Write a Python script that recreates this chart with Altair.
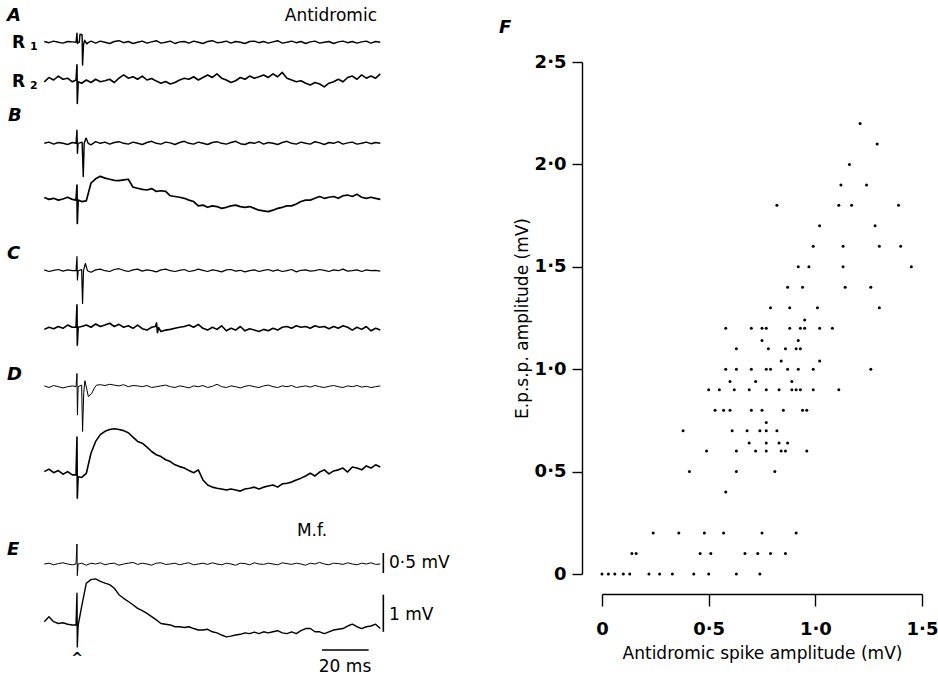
import altair as alt
import pandas as pd

# ---------------- Traces (mV relative to baseline), sampled every 2 ms from -14 ms ----------------
T_START, T_STEP = -14, 2

A_R1 = [0.02, -0.01, 0.03, 0.00, -0.02, 0.02, 0.01, 0.00, 0.00, -0.05,
        0.03, -0.02, 0.03, 0.00, -0.03, 0.02, 0.04, -0.01, 0.02, -0.03,
        0.00, 0.03, -0.02, 0.01, 0.04, -0.02, 0.00, 0.03, -0.03, 0.01,
        0.02, -0.02, 0.03, 0.00, -0.03, 0.02, 0.04, -0.01, 0.00, 0.03,
        -0.02, 0.02, 0.00, -0.03, 0.02, 0.03, -0.01, 0.02, -0.02, 0.01,
        0.04, -0.02, 0.00, 0.03, -0.01, 0.02, -0.03, 0.01, 0.03, -0.02,
        0.00, 0.02, -0.03, 0.01, 0.03, -0.01, 0.02, -0.02, 0.01, 0.03,
        -0.02, 0.02, 0.00]
A_R2 = [-0.05, 0.07, 0.00, 0.11, 0.02, 0.05, -0.05, 0.00, -0.09, 0.00,
        -0.07, 0.02, -0.05, -0.02, 0.02, -0.07, 0.05, 0.14, 0.05, 0.09,
        0.02, 0.11, 0.00, 0.04, -0.03, -0.09, -0.04, -0.11, -0.07, 0.00,
        0.05, 0.02, 0.09, 0.00, 0.07, 0.14, 0.07, 0.17, 0.05, 0.00,
        -0.07, -0.02, 0.07, 0.02, 0.11, 0.05, 0.09, 0.14, 0.07, 0.17,
        0.09, 0.21, 0.05, 0.00, -0.05, -0.02, -0.09, -0.14, -0.07, -0.11,
        -0.19, -0.09, -0.05, 0.02, -0.05, 0.07, 0.11, 0.02, 0.14, 0.05,
        0.11, 0.05, 0.17]
B_R1 = [0.00, 0.03, -0.02, 0.02, 0.00, -0.03, 0.02, 0.00, 0.00, 0.00,
        -0.04, 0.04, 0.00, 0.03, -0.02, 0.02, 0.04, 0.00, -0.02, 0.03,
        0.00, -0.03, 0.02, 0.05, 0.00, -0.02, 0.03, 0.01, -0.03, 0.02,
        0.05, 0.00, -0.02, 0.03, 0.00, -0.03, 0.02, 0.04, 0.00, -0.02,
        0.02, 0.05, -0.01, -0.03, 0.02, 0.00, 0.04, -0.02, 0.02, 0.00,
        -0.03, 0.02, 0.05, 0.00, -0.02, 0.03, 0.00, -0.02, 0.04, 0.01,
        -0.03, 0.02, 0.00, 0.04, -0.02, 0.01, 0.03, -0.02, 0.00, 0.03,
        -0.01, 0.02, 0.00]
B_R2 = [0.02, -0.03, 0.00, -0.05, -0.02, 0.03, -0.03, -0.05, -0.09, -0.07,
        0.42, 0.54, 0.61, 0.56, 0.53, 0.50, 0.49, 0.51, 0.53, 0.31,
        0.28, 0.25, 0.23, 0.27, 0.19, 0.21, 0.19, 0.07, 0.05, 0.03,
        0.00, -0.05, -0.09, -0.21, -0.19, -0.25, -0.21, -0.23, -0.28, -0.25,
        -0.21, -0.19, -0.23, -0.25, -0.23, -0.28, -0.33, -0.35, -0.37, -0.33,
        -0.28, -0.25, -0.21, -0.21, -0.16, -0.09, -0.05, -0.05, 0.00, 0.05,
        0.00, 0.03, 0.05, 0.00, 0.07, 0.09, 0.05, 0.11, 0.03, 0.00,
        0.03, 0.00, -0.03]
C_R1 = [0.02, -0.02, 0.01, 0.03, -0.01, 0.02, 0.00, 0.00, 0.00, 0.00,
        -0.04, 0.02, 0.04, 0.00, -0.02, 0.03, 0.05, 0.01, -0.02, 0.02,
        0.04, -0.01, 0.02, 0.00, -0.03, 0.02, 0.04, 0.00, -0.02, 0.01,
        0.03, -0.02, 0.00, 0.04, 0.01, -0.02, 0.02, 0.00, -0.03, 0.02,
        0.03, -0.01, 0.01, -0.03, 0.00, 0.02, -0.02, 0.01, 0.03, -0.01,
        0.02, -0.02, 0.00, 0.03, -0.03, 0.01, 0.02, -0.01, 0.00, 0.03,
        0.01, -0.02, 0.02, 0.00, 0.04, -0.01, 0.00, 0.02, -0.02, 0.02,
        0.00, 0.01, -0.01]
C_R2 = [-0.03, 0.03, -0.01, 0.05, 0.00, 0.09, 0.03, 0.00, 0.05, 0.09,
        0.03, 0.12, 0.05, 0.09, 0.14, 0.05, 0.11, 0.03, 0.07, 0.00,
        0.09, -0.01, -0.05, 0.03, 0.09, -0.09, -0.05, -0.03, 0.00, 0.03,
        0.05, 0.09, 0.03, 0.11, 0.00, -0.05, 0.03, -0.03, 0.07, -0.07,
        0.00, -0.05, 0.05, -0.07, -0.01, -0.05, -0.09, -0.03, -0.07, 0.00,
        -0.05, 0.03, 0.05, 0.00, 0.07, 0.03, 0.05, 0.00, 0.07, 0.03,
        0.05, -0.01, 0.05, 0.00, 0.07, 0.03, -0.05, 0.03, -0.03, 0.05,
        -0.07, 0.00, -0.05]
D_R1 = [0.02, -0.02, 0.03, 0.00, -0.03, 0.00, 0.02, 0.00, 0.00, 0.00,
        0.00, 0.00, 0.05, 0.03, 0.06, 0.04, 0.02, 0.05, 0.00, 0.03,
        0.02, 0.00, 0.03, -0.02, 0.00, 0.02, 0.04, 0.00, -0.02, 0.02,
        0.00, -0.03, 0.02, 0.00, 0.03, -0.02, 0.01, 0.06, 0.00, -0.02,
        0.02, 0.00, -0.03, 0.01, 0.03, 0.00, -0.02, 0.02, 0.04, 0.00,
        -0.02, 0.02, 0.00, 0.03, -0.02, 0.00, 0.02, -0.01, 0.03, 0.00,
        -0.02, 0.01, 0.03, 0.00, -0.02, 0.02, 0.00, 0.03, -0.01, 0.01,
        -0.02, 0.00, 0.02]
D_R2 = [0.14, 0.21, 0.11, 0.17, 0.07, 0.14, 0.05, 0.00, -0.02, 0.09,
        0.65, 0.98, 1.17, 1.26, 1.31, 1.33, 1.31, 1.28, 1.22, 1.10,
        0.98, 0.93, 0.82, 0.70, 0.61, 0.56, 0.47, 0.42, 0.33, 0.28,
        0.24, 0.17, 0.11, 0.19, -0.09, -0.23, -0.29, -0.32, -0.34, -0.37,
        -0.34, -0.37, -0.40, -0.34, -0.32, -0.29, -0.34, -0.29, -0.26, -0.23,
        -0.29, -0.20, -0.18, -0.15, -0.09, -0.04, 0.02, 0.10, 0.02, 0.13,
        0.19, 0.08, 0.16, 0.19, 0.24, 0.13, 0.27, 0.24, 0.19, 0.30,
        0.24, 0.33, 0.27]
E_R1 = [0.00, 0.02, -0.02, 0.01, 0.03, 0.00, -0.02, 0.00, 0.02, -0.03,
        0.02, 0.00, 0.03, -0.02, 0.01, 0.02, -0.03, 0.00, 0.02, 0.04,
        -0.01, 0.02, 0.00, -0.03, 0.02, 0.03, -0.01, 0.00, 0.02, -0.02,
        0.01, 0.03, -0.02, 0.00, 0.02, -0.01, 0.03, 0.00, -0.02, 0.02,
        0.00, -0.03, 0.02, 0.01, -0.02, 0.03, 0.00, -0.01, 0.02, 0.00,
        -0.02, 0.03, 0.01, -0.01, 0.02, 0.00, -0.03, 0.02, 0.00, 0.04,
        0.00, -0.02, 0.02, 0.01, -0.01, 0.03, 0.00, -0.02, 0.02, 0.00,
        0.03, -0.01, 0.00]
E_R2 = [0.00, 0.14, 0.00, -0.05, -0.03, -0.07, -0.09, 0.00, 0.42, 1.07,
        1.17, 1.19, 1.12, 1.07, 1.03, 0.93, 0.75, 0.65, 0.56, 0.47,
        0.37, 0.31, 0.23, 0.14, 0.05, -0.05, -0.07, -0.09, -0.14, -0.14,
        -0.16, -0.14, -0.19, -0.23, -0.23, -0.21, -0.28, -0.31, -0.37, -0.42,
        -0.40, -0.37, -0.35, -0.31, -0.33, -0.29, -0.33, -0.28, -0.31, -0.28,
        -0.25, -0.31, -0.33, -0.28, -0.33, -0.25, -0.19, -0.19, -0.28, -0.28,
        -0.33, -0.28, -0.23, -0.21, -0.19, -0.12, -0.07, -0.14, -0.19, -0.14,
        -0.12, -0.07, -0.19]

# Stimulus artefacts and antidromic spikes (time in ms, value in mV)
A_R1_EV_T = [-0.4, 0.0, 0.2, 0.6, 1.0, 1.3, 2.2, 2.4, 2.8, 3.3, 4.2, 5.0]
A_R1_EV_V = [0.0, 0.23, -0.03, 0.0, 0.0, 0.20, 0.19, -0.57, -0.06, 0.05, -0.04, 0.0]
A_R2_EV_T = [-0.4, 0.0, 0.15, 0.5]
A_R2_EV_V = [0.0, 0.42, -0.65, -0.05]
B_R1_EV_T = [-0.4, 0.0, 0.2, 0.5, 2.2, 2.7, 3.1, 3.9, 4.8]
B_R1_EV_V = [0.0, 0.33, -0.25, 0.0, 0.03, -0.83, 0.0, 0.13, 0.0]
B_R2_EV_T = [-0.4, 0.0, 0.15, 0.5]
B_R2_EV_V = [-0.05, 0.37, -0.70, -0.05]
C_R1_EV_T = [-0.4, 0.0, 0.2, 0.5, 2.0, 2.4, 2.8, 3.6, 4.5]
C_R1_EV_V = [0.0, 0.35, -0.23, 0.0, 0.03, -0.82, 0.0, 0.18, 0.0]
C_R2_EV_T = [-0.4, 0.0, 0.15, 0.5, 33.6, 34.1, 34.5, 35.0]
C_R2_EV_V = [0.03, 0.65, -0.47, 0.03, 0.05, 0.15, -0.12, 0.02]
D_R1_EV_T = [-0.4, 0.0, 0.2, 0.5, 2.0, 2.4, 2.9, 3.4, 4.2, 4.9, 6.3, 7.5, 8.4]
D_R1_EV_V = [0.0, 0.33, -0.71, 0.0, 0.04, -1.12, -0.15, 0.15, -0.06, -0.25, -0.17, -0.03, 0.04]
D_R2_EV_T = [-0.4, 0.0, 0.15, 0.5]
D_R2_EV_V = [0.05, 1.10, -0.60, 0.0]
E_R1_EV_T = [-0.4, 0.0, 0.15, 0.5]
E_R1_EV_V = [0.0, 0.50, -0.29, 0.0]
E_R2_EV_T = [-0.4, 0.0, 0.15, 0.5]
E_R2_EV_V = [-0.09, 0.79, -0.70, -0.10]

# ---------------- Scatter F ----------------
SPIKE = [1.21, 1.29, 1.16, 1.12, 1.24, 0.82, 1.11, 1.17, 1.39, 1.02, 1.28, 0.99, 1.13, 1.30, 1.40,
         0.92, 0.97, 1.13, 1.45, 0.87, 0.94, 1.14, 1.26,
         0.79, 0.88, 1.01, 1.30,
         0.95,
         0.58, 0.70, 0.75, 0.77, 0.88, 0.93, 0.95, 1.02, 1.08,
         0.75, 0.92,
         0.63, 0.78, 0.86, 0.91, 0.93,
         0.84, 1.02,
         0.58, 0.63, 0.70, 0.77, 0.79, 0.87, 0.92, 0.99, 1.26,
         0.60, 0.72, 0.89,
         0.50, 0.55, 0.62, 0.69, 0.77, 0.83, 0.89, 0.91, 0.93, 0.99, 1.11,
         0.53, 0.57, 0.60, 0.70, 0.75, 0.85, 0.94, 0.96,
         0.77,
         0.38, 0.61, 0.68, 0.74, 0.77, 0.82,
         0.69, 0.77, 0.83, 0.87,
         0.49, 0.63, 0.72, 0.77, 0.84, 0.86, 0.96,
         0.41, 0.63, 0.81,
         0.58,
         0.24, 0.36, 0.48, 0.57, 0.75, 0.91,
         0.14, 0.16, 0.46, 0.51, 0.67, 0.73, 0.79, 0.86,
         0.00, 0.03, 0.06, 0.10, 0.13, 0.22, 0.27, 0.33, 0.43, 0.50, 0.63, 0.74]
EPSP = [2.2, 2.1, 2.0, 1.9, 1.9, 1.8, 1.8, 1.8, 1.8, 1.7, 1.7, 1.6, 1.6, 1.6, 1.6,
        1.5, 1.5, 1.5, 1.5, 1.4, 1.4, 1.4, 1.4,
        1.3, 1.3, 1.3, 1.3,
        1.24,
        1.2, 1.2, 1.2, 1.2, 1.2, 1.2, 1.2, 1.2, 1.2,
        1.14, 1.14,
        1.1, 1.1, 1.1, 1.1, 1.1,
        1.04, 1.04,
        1.0, 1.0, 1.0, 1.0, 1.0, 1.0, 1.0, 1.0, 1.0,
        0.94, 0.94, 0.94,
        0.9, 0.9, 0.9, 0.9, 0.9, 0.9, 0.9, 0.9, 0.9, 0.9, 0.9,
        0.8, 0.8, 0.8, 0.8, 0.8, 0.8, 0.8, 0.8,
        0.74,
        0.7, 0.7, 0.7, 0.7, 0.7, 0.7,
        0.64, 0.64, 0.64, 0.64,
        0.6, 0.6, 0.6, 0.6, 0.6, 0.6, 0.6,
        0.5, 0.5, 0.5,
        0.4,
        0.2, 0.2, 0.2, 0.2, 0.2, 0.2,
        0.1, 0.1, 0.1, 0.1, 0.1, 0.1, 0.1, 0.1,
        0.0, 0.0, 0.0, 0.0, 0.0, 0.0, 0.0, 0.0, 0.0, 0.0, 0.0, 0.0]

# ---------------- Layout of the trace panel ----------------
R1_GAIN = 40.0   # display units per mV for R1 traces
R2_GAIN = 36.0   # display units per mV for R2 traces
TRACES = [
    ("A1", A_R1, A_R1_EV_T, A_R1_EV_V, 42.3, R1_GAIN, 1.4),
    ("A2", A_R2, A_R2_EV_T, A_R2_EV_V, 80.0, R2_GAIN, 1.6),
    ("B1", B_R1, B_R1_EV_T, B_R1_EV_V, 143.3, R1_GAIN, 1.4),
    ("B2", B_R2, B_R2_EV_T, B_R2_EV_V, 198.3, R2_GAIN, 1.7),
    ("C1", C_R1, C_R1_EV_T, C_R1_EV_V, 270.7, R1_GAIN, 1.2),
    ("C2", C_R2, C_R2_EV_T, C_R2_EV_V, 328.3, R2_GAIN, 1.6),
    ("D1", D_R1, D_R1_EV_T, D_R1_EV_V, 386.7, R1_GAIN, 1.0),
    ("D2", D_R2, D_R2_EV_T, D_R2_EV_V, 476.7, R2_GAIN, 1.6),
    ("E1", E_R1, E_R1_EV_T, E_R1_EV_V, 564.0, R1_GAIN, 1.0),
    ("E2", E_R2, E_R2_EV_T, E_R2_EV_V, 621.7, R2_GAIN, 1.4),
]

rows = []
for name, vals, ev_t, ev_v, base, gain, sw in TRACES:
    pts = []
    for i, v in enumerate(vals):
        t = T_START + T_STEP * i
        if any(abs(t - e) < 0.9 for e in ev_t):
            continue
        pts.append((t, v))
    pts += list(zip(ev_t, ev_v))
    pts.sort()
    for k, (t, v) in enumerate(pts):
        rows.append({"trace": name, "t": t, "y": base - v * gain, "sw": sw, "o": k})
df_tr = pd.DataFrame(rows)

xs_tr = alt.Scale(domain=[-14, 130], range=[44.3, 380.3], nice=False, zero=False)
ys_tr = alt.Scale(domain=[0, 675], range=[0, 675], nice=False, zero=False)

lines = alt.Chart(df_tr).mark_line(color="black", strokeJoin="round").encode(
    x=alt.X("t:Q", scale=xs_tr, axis=None),
    y=alt.Y("y:Q", scale=ys_tr, axis=None),
    detail="trace:N",
    order="o:Q",
    strokeWidth=alt.StrokeWidth("sw:Q", scale=None),
)

E1_BASE, E2_BASE = 564.0, 621.7
df_bars = pd.DataFrame([
    {"t": 105, "t2": 125, "y": 650, "y2": 650},
    {"t": 131.3, "t2": 131.3, "y": E1_BASE - 0.275 * R1_GAIN, "y2": E1_BASE + 0.225 * R1_GAIN},
    {"t": 131.3, "t2": 131.3, "y": E2_BASE - 0.75 * R2_GAIN, "y2": E2_BASE + 0.28 * R2_GAIN},
])
bars = alt.Chart(df_bars).mark_rule(color="black", strokeWidth=1.6).encode(
    x=alt.X("t:Q", scale=xs_tr, axis=None), x2="t2:Q",
    y=alt.Y("y:Q", scale=ys_tr, axis=None), y2="y2:Q",
)

FONT = "DejaVu Sans"


def txt(s, x, y, size=17, align="left", style="normal", weight="normal"):
    return alt.Chart(pd.DataFrame({"k": [0]})).mark_text(
        text=s, align=align, baseline="middle", fontSize=size, font=FONT,
        fontStyle=style, fontWeight=weight, color="black",
    ).encode(x=alt.value(x), y=alt.value(y))


texts = [
    txt("A", 7, 16, 18, style="italic", weight="bold"),
    txt("B", 8, 116, 18, style="italic", weight="bold"),
    txt("C", 7, 254, 18, style="italic", weight="bold"),
    txt("D", 7, 375, 18, style="italic", weight="bold"),
    txt("E", 7, 550, 18, style="italic", weight="bold"),
    txt("F", 499, 28, 18, style="italic", weight="bold"),
    txt("R", 12, 43, 17, weight="bold"),
    txt("1", 30, 47, 11, weight="bold"),
    txt("R", 12, 82, 17, weight="bold"),
    txt("2", 30, 86, 11, weight="bold"),
    txt("Antidromic", 377, 16, 17, align="right"),
    txt("M.f.", 312, 531, 17, align="center"),
    txt("^", 77, 659, 14, align="center", weight="bold"),
    txt("20 ms", 345, 667, 17, align="center"),
    txt("0·5 mV", 389, 563, 17),
    txt("1 mV", 389, 615, 17),
]

trace_panel = alt.layer(lines, bars, *texts)

LABEL_EXPR = "datum.value == 0 ? '0' : replace(format(datum.value, '.1f'), '.', '·')"
df_sc = pd.DataFrame({"spike": SPIKE, "epsp": EPSP})
scatter = alt.Chart(df_sc).mark_circle(color="black", opacity=1, size=9).encode(
    x=alt.X("spike:Q",
            scale=alt.Scale(domain=[0, 1.5], range=[602, 922], nice=False, zero=False),
            axis=alt.Axis(orient="bottom", offset=-81, values=[0, 0.5, 1.0, 1.5], labelExpr=LABEL_EXPR,
                          title="Antidromic spike amplitude (mV)", grid=False, tickSize=12,
                          domainColor="black", tickColor="black", domainWidth=1.4, tickWidth=1.4,
                          labelColor="black", labelFont=FONT, labelFontSize=18, labelFontWeight="bold",
                          labelPadding=14, titleFont=FONT, titleFontSize=17, titleFontWeight="normal",
                          titleColor="black", titlePadding=7, labelFlush=False)),
    y=alt.Y("epsp:Q",
            scale=alt.Scale(domain=[0, 2.5], range=[574, 62], nice=False, zero=False),
            axis=alt.Axis(orient="left", offset=-582, values=[0, 0.5, 1.0, 1.5, 2.0, 2.5], labelExpr=LABEL_EXPR,
                          title="E.p.s.p. amplitude (mV)", grid=False, tickSize=10,
                          domainColor="black", tickColor="black", domainWidth=1.4, tickWidth=1.4,
                          labelColor="black", labelFont=FONT, labelFontSize=18, labelFontWeight="bold",
                          labelPadding=6, titleFont=FONT, titleFontSize=17, titleFontWeight="normal",
                          titleColor="black", titlePadding=3, labelFlush=False)),
)

chart = alt.layer(trace_panel, scatter).resolve_scale(
    x="independent", y="independent"
).properties(
    width=938, height=675, autosize=alt.AutoSizeParams(type="none"), padding=0,
    background="white",
).configure_view(stroke=None)

chart.save("out.html", embed_options={"renderer": "svg", "actions": False})
